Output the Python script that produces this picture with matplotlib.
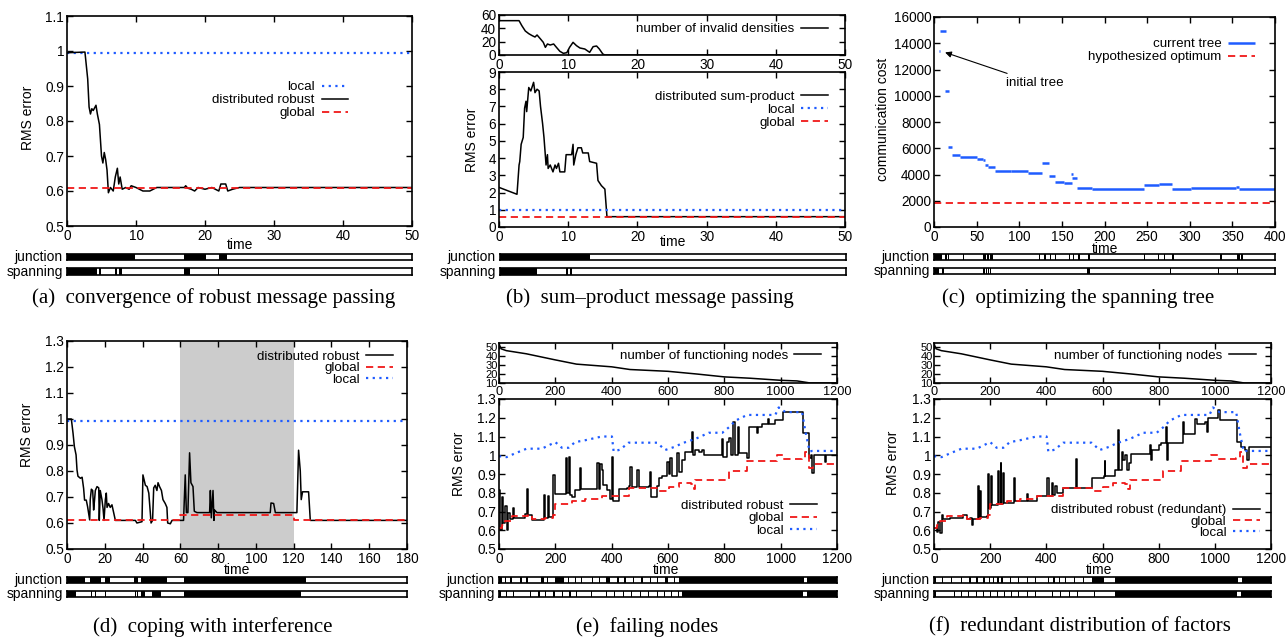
import matplotlib.pyplot as plt

plt.rcParams['font.family'] = ['Liberation Sans', 'DejaVu Sans']

W, H = 1287, 637
BLUE = '#1f5cff'
RED = '#f01818'

# ---------------- (a) convergence of robust message passing
a_time = [0, 2.6, 3.0, 3.2, 3.4, 3.6, 3.8, 4.2, 4.4, 4.7,
          5.0, 5.2, 5.4, 5.6, 5.8, 6.0, 6.3, 6.7, 7.0, 7.3,
          7.5, 7.7, 8.0, 8.5, 9.0, 9.3, 10, 11, 12, 13,
          17, 17.2, 17.5, 18, 18.5, 19, 20, 21, 22, 22.3,
          23, 23.3, 24, 25, 50]
a_robust = [0.995, 0.997, 0.92, 0.84, 0.82, 0.835, 0.83, 0.845, 0.82, 0.79,
            0.70, 0.68, 0.71, 0.69, 0.66, 0.595, 0.61, 0.60, 0.64, 0.665,
            0.62, 0.64, 0.605, 0.61, 0.605, 0.615, 0.61, 0.60, 0.60, 0.61,
            0.61, 0.615, 0.608, 0.605, 0.60, 0.61, 0.605, 0.61, 0.60, 0.62,
            0.62, 0.60, 0.605, 0.61, 0.61]
a_local = 0.993
a_global = 0.61
a_junction = [(0, 9.9), (17.0, 20.2), (22.0, 23.2)]
a_spanning = [(0, 4.3), (4.6, 4.9), (6.9, 7.2), (7.6, 7.9), (17.0, 17.8), (21.9, 22.05)]

# ---------------- (b) sum-product message passing
b_inv_time = [0, 2.9, 3.3, 3.8, 4.3, 4.8, 5.2, 5.5, 6.0, 6.4,
              6.7, 7.0, 7.4, 7.9, 8.3, 8.8, 9.3, 9.8, 10.2, 10.7,
              11.2, 11.7, 12.4, 13.1, 13.6, 14.1, 14.5, 15.0, 15.3, 50]
b_invalid = [51.5, 51.5, 44, 36, 32, 29, 27, 30, 24, 19,
             11.5, 16.5, 15, 16.5, 11.5, 5.5, 2.5, 3.5, 11.5, 19,
             14, 10.5, 9, 4, 12.5, 13.5, 9, 1.5, 0, 0]
b_time = [0, 2.6, 2.9, 3.0, 3.2, 3.5, 3.7, 3.9, 4.0, 4.3,
          4.6, 5.0, 5.2, 5.5, 5.8, 6.0, 6.3, 6.5, 6.8, 7.0,
          7.1, 7.4, 7.8, 8.1, 8.3, 8.6, 8.8, 9.5, 9.7, 10.5,
          10.7, 10.8, 11.1, 11.4, 11.9, 12.1, 12.9, 13.1, 14.1, 14.3,
          14.8, 15.3, 15.6, 50]
b_sumprod = [2.3, 1.9, 3.6, 3.8, 4.8, 5.2, 6.9, 7.3, 6.7, 8.1,
             7.9, 8.4, 7.8, 8.0, 7.9, 7.0, 6.0, 5.2, 3.6, 4.2,
             3.4, 3.6, 3.2, 3.6, 3.4, 3.7, 3.2, 3.2, 4.2, 4.2,
             4.8, 3.6, 4.2, 4.6, 4.6, 4.3, 4.3, 3.8, 3.7, 2.7,
             2.4, 2.2, 0.6, 0.6]
b_local = 1.0
b_global = 0.6
b_junction = [(0, 13.0)]
b_spanning = [(0, 5.4), (6.75, 6.85), (9.5, 9.8), (10.1, 10.4)]

# ---------------- (c) optimizing the spanning tree
c_start = [6, 6.5, 13, 17, 21, 30, 50, 58, 60, 63, 71, 90, 110, 127, 135, 142,
           152, 161, 162, 168, 185, 246, 264, 279, 302, 354, 358]
c_end = [7.5, 13.5, 18, 21, 30, 50, 58, 60, 63, 71, 90, 110, 127, 135, 142, 152,
         162, 163, 168, 185, 246, 264, 279, 302, 354, 358, 400]
c_cost = [13400, 14900, 10400, 6100, 5450, 5350, 5200, 5100, 4750, 4600, 4300, 4250,
          4150, 4870, 3850, 3450, 3330, 4050, 3720, 3000, 2900, 3200, 3280, 2900,
          3000, 3070, 2870]
c_optimum = 1850
c_junction = [(0, 9.6), (12.7, 15.4), (16.8, 17.6), (34.3, 35.0), (39.7, 40.4),
              (57.7, 61), (62.5, 64), (65.5, 69), (110, 110.8), (123, 123.8),
              (129, 131), (136, 136.8), (142, 142.8), (152, 152.8), (158, 160),
              (163, 163.8), (169, 171), (181, 183), (246, 248), (263, 264),
              (270, 271), (279, 281), (335, 338), (356, 359), (360.5, 363)]
c_spanning = [(0, 5.8), (9.6, 11.5), (57.7, 59.5), (61, 61.8), (63.5, 64.3),
              (66, 67), (179, 183), (277, 277.8), (333, 333.8), (356, 356.8)]

# ---------------- (d) coping with interference
d_time = [0, 2.3, 3.2, 3.9, 4.8, 5.3, 5.8, 7.1, 8.0, 8.8,
          9.3, 10.2, 10.9, 12.0, 12.3, 12.9, 13.6, 14.1, 14.6, 15.0,
          15.9, 16.8, 17.1, 17.6, 18.5, 19.1, 19.6, 20.3, 20.8, 21.2,
          22.0, 22.9, 23.8, 24.7, 25.6, 36.2, 37.0, 39.7, 40.2, 41.5,
          42.4, 43.3, 44.1, 44.5, 45.3, 45.9, 46.7, 47.6, 48.2, 49.0,
          50.0, 50.8, 52.0, 52.9, 53.3, 54.7, 55.6, 61.7, 62.6, 63.2,
          64.0, 64.9, 65.6, 66.7, 67.4, 68.8, 75.5, 75.9, 76.4, 77.3,
          77.8, 78.1, 79.4, 107.6, 108.0, 109.4, 110.3, 121.7, 122.6, 123.5,
          124.0, 124.7, 127.9, 128.8, 180]
d_robust = [1.0, 1.0, 0.945, 0.894, 0.862, 0.804, 0.78, 0.772, 0.776, 0.733,
            0.688, 0.688, 0.663, 0.612, 0.69, 0.73, 0.725, 0.65, 0.69, 0.725,
            0.74, 0.735, 0.61, 0.725, 0.69, 0.655, 0.61, 0.69, 0.715, 0.66,
            0.675, 0.66, 0.67, 0.64, 0.61, 0.61, 0.60, 0.605, 0.785, 0.745,
            0.74, 0.715, 0.64, 0.60, 0.61, 0.735, 0.745, 0.725, 0.755, 0.74,
            0.725, 0.69, 0.675, 0.66, 0.60, 0.597, 0.61, 0.61, 0.785, 0.64,
            0.64, 0.87, 0.755, 0.74, 0.645, 0.64, 0.64, 0.725, 0.62, 0.725,
            0.61, 0.65, 0.64, 0.64, 0.677, 0.675, 0.64, 0.64, 0.88, 0.80,
            0.69, 0.72, 0.72, 0.61, 0.61]
d_global_time = [0, 60, 120, 180]
d_global = [0.61, 0.632, 0.61, 0.61]
d_local = 0.993
d_shade = (60, 120)
d_junction = [(0, 9.7), (12.3, 18.2), (19.9, 22.9), (35.6, 37.4), (39.3, 52.9), (62.1, 126.5)]
d_spanning = [(0, 4.9), (12.9, 13.4), (14.6, 15.3), (20.0, 20.4), (36.2, 36.6),
              (37.2, 37.5), (39.2, 41.2), (45.0, 49.6), (62.1, 123.8)]

# ---------------- (e) failing nodes / (f) redundant distribution
ef_node_time = [0, 8, 26, 97, 200, 275, 400, 465, 600, 702, 800, 892, 1000, 1058, 1105, 1200]
ef_nodes = [53, 48, 46, 42.5, 35.7, 31, 28, 25, 23, 20, 16.8, 15.3, 13, 12.3, 10, 10]

ef_local_time = [0, 27, 57, 98, 152, 200, 223, 247, 270, 306,
                 365, 401, 407, 430, 460, 561, 590, 626, 650, 697,
                 745, 793, 817, 840, 881, 981, 993, 1017, 1076, 1088,
                 1103, 1112, 1200]
ef_local = [0.995, 0.99, 1.01, 1.035, 1.035, 1.07, 1.04, 1.04, 1.07, 1.08,
            1.10, 1.10, 1.02, 1.03, 1.067, 1.067, 1.028, 1.046, 1.064, 1.087,
            1.12, 1.12, 1.15, 1.185, 1.215, 1.215, 1.255, 1.23, 1.23, 1.125,
            1.02, 1.023, 1.023]
ef_global_time = [0, 10, 21, 45, 104, 116, 165, 193, 200, 259, 306, 365, 460, 561,
                  602, 638, 680, 692, 697, 817, 881, 987, 1010, 1076, 1088, 1100, 1116, 1200]
ef_global = [0.61, 0.63, 0.65, 0.675, 0.68, 0.66, 0.665, 0.68, 0.74, 0.755, 0.765, 0.785,
             0.825, 0.81, 0.832, 0.85, 0.845, 0.82, 0.87, 0.915, 0.97, 1.0, 0.98, 0.983,
             1.015, 0.93, 0.955, 0.955]

e_time = [0, 4, 9, 15, 21, 27, 33, 39, 51, 54,
          69, 92, 98, 102, 116, 158, 161, 165, 173, 178,
          190, 193, 200, 235, 238, 242, 247, 252, 259, 270,
          288, 292, 342, 348, 356, 359, 365, 371, 383, 395,
          401, 404, 422, 425, 454, 460, 466, 472, 490, 496,
          532, 535, 539, 561, 567, 579, 596, 602, 608, 614,
          632, 638, 650, 656, 662, 685, 689, 697, 709, 721,
          727, 784, 790, 796, 808, 817, 823, 832, 838, 847,
          851, 881, 887, 911, 915, 921, 935, 953, 956, 959,
          981, 987, 1010, 1076, 1079, 1094, 1100, 1106, 1112, 1118,
          1154, 1157, 1162, 1200]
e_robust = [0.815, 0.60, 0.78, 0.64, 0.73, 0.60, 0.69, 0.66, 0.72, 0.665,
            0.665, 0.685, 0.82, 0.68, 0.655, 0.655, 0.79, 0.665, 0.785, 0.67,
            0.685, 0.895, 0.795, 0.795, 0.985, 0.80, 0.99, 0.79, 0.78, 0.815,
            0.93, 0.82, 0.82, 0.96, 0.82, 0.955, 0.92, 0.84, 0.815, 0.765,
            0.99, 0.755, 0.755, 0.82, 0.825, 0.835, 0.94, 0.83, 0.92, 0.83,
            0.835, 0.91, 0.78, 0.835, 0.88, 0.89, 0.965, 0.90, 0.985, 0.89,
            1.01, 0.91, 0.975, 0.975, 1.02, 1.125, 1.0, 1.03, 1.02, 1.03,
            1.0, 1.0, 1.085, 0.99, 1.07, 1.09, 1.0, 1.18, 1.0, 1.15,
            1.01, 0.985, 1.15, 1.15, 1.12, 1.15, 1.165, 1.165, 1.195, 1.165,
            1.19, 1.19, 1.23, 1.23, 1.12, 1.12, 0.985, 1.0, 0.905, 1.0,
            1.0, 0.965, 1.0, 1.0]
e_junction = [(0, 12), (20, 24), (40, 46), (75, 80), (95, 103), (150, 160), (170, 175),
              (200, 230), (245, 250), (270, 275), (290, 295), (330, 335), (355, 360),
              (380, 395), (420, 425), (445, 450), (475, 480), (505, 510), (535, 540),
              (560, 565), (590, 600), (620, 625), (640, 1083), (1095, 1200)]
e_spanning = [(0, 8), (25, 28), (50, 53), (80, 83), (110, 113), (140, 146), (165, 168),
              (190, 200), (225, 228), (250, 255), (275, 278), (300, 303), (325, 330),
              (350, 353), (380, 384), (410, 413), (440, 445), (470, 473), (500, 503),
              (530, 533), (560, 563), (585, 590), (610, 613), (635, 640), (648, 1080),
              (1094, 1200)]

f_time = [0, 9, 15, 21, 27, 33, 57, 104, 116, 128,
          134, 140, 155, 159, 164, 167, 188, 193, 197, 202,
          206, 229, 232, 237, 240, 244, 249, 286, 290, 330,
          336, 365, 404, 408, 419, 422, 430, 437, 460, 506,
          509, 563, 605, 608, 610, 644, 656, 660, 668, 674,
          680, 688, 694, 703, 769, 774, 777, 801, 807, 825,
          830, 832, 836, 887, 891, 905, 929, 935, 965, 971,
          976, 981, 1010, 1017, 1079, 1094, 1106, 1114, 1121, 1200]
f_robust = [0.61, 0.59, 0.645, 0.585, 0.68, 0.66, 0.665, 0.68, 0.66, 0.665,
            0.63, 0.66, 0.835, 0.66, 0.81, 0.67, 0.675, 0.90, 0.72, 0.89,
            0.735, 0.915, 0.74, 0.96, 0.74, 0.905, 0.745, 0.88, 0.755, 0.795,
            0.755, 0.785, 0.88, 0.785, 0.85, 0.79, 0.835, 0.80, 0.825, 0.98,
            0.825, 0.88, 0.89, 0.97, 0.89, 0.92, 1.135, 0.92, 1.02, 0.975,
            1.0, 0.92, 0.96, 1.007, 1.055, 0.975, 1.03, 1.055, 1.065, 1.15,
            0.975, 1.065, 1.065, 1.18, 1.115, 1.115, 1.195, 1.165, 1.18, 1.125,
            1.2, 1.2, 1.24, 1.19, 1.07, 1.045, 1.03, 0.975, 1.045, 1.045]
f_junction = [(0, 6), (30, 33), (60, 63), (95, 98), (125, 130), (150, 155), (175, 180),
              (195, 200), (210, 214), (225, 230), (240, 245), (270, 273), (300, 303),
              (330, 333), (360, 363), (390, 393), (405, 410), (425, 430), (445, 450),
              (465, 470), (500, 503), (530, 533), (561, 607), (644, 1083), (1095, 1200)]
f_spanning = [(0, 6), (20, 23), (45, 48), (70, 73), (95, 98), (120, 123), (150, 153),
              (175, 178), (200, 203), (225, 228), (250, 253), (275, 278), (300, 303),
              (330, 333), (360, 363), (390, 393), (420, 423), (450, 453), (480, 483),
              (510, 513), (540, 543), (570, 573), (600, 603), (644, 1080), (1094, 1200)]

TICK = 9.8
LEG = 9.6
LAB = 10

fig = plt.figure(figsize=(W / 100, H / 100), dpi=100)


def add_box(x0, y0, x1, y1):
    return fig.add_axes([x0 / W, 1 - y1 / H, (x1 - x0) / W, (y1 - y0) / H])


def ptext(x, y, s, **kw):
    fig.text(x / W, 1 - y / H, s, ha='center', va='center', **kw)


def gp_style(ax, size=TICK):
    ax.tick_params(direction='in', length=4, width=1, top=True, right=True,
                   labelsize=size, pad=2)
    for s in ax.spines.values():
        s.set_linewidth(1.2)


def gp_legend(ax, anchor, spacing=0.05, size=LEG):
    ax.legend(loc='upper right', bbox_to_anchor=anchor, frameon=False, markerfirst=False,
              fontsize=size, handlelength=2.0, labelspacing=spacing, borderpad=0,
              handletextpad=0.5, borderaxespad=0)


def strip(x0, x1, y0, y1, xmax, on, name):
    ax = add_box(x0, y0, x1, y1)
    ax.broken_barh([(s, e - s) for s, e in on], (0, 1), facecolor='black', edgecolor='none')
    ax.set_xlim(0, xmax)
    ax.set_ylim(0, 1)
    ax.set_xticks([])
    ax.set_yticks([])
    for s in ax.spines.values():
        s.set_linewidth(1.2)
    ax.annotate(name, xy=(0, 0.5), xycoords='axes fraction', xytext=(-3, 0),
                textcoords='offset points', ha='right', va='center', fontsize=LAB)


def caption(xc, yc, txt):
    ptext(xc, yc, txt, fontsize=15, family=['Liberation Serif', 'DejaVu Serif'])


rms_ticks = [0.5, 0.6, 0.7, 0.8, 0.9, 1.0, 1.1, 1.2, 1.3]
rms_labels = ['0.5', '0.6', '0.7', '0.8', '0.9', '1', '1.1', '1.2', '1.3']

# ---- (a)
ax = add_box(67, 16, 412, 226)
ax.axhline(a_local, color=BLUE, ls=(0, (1, 2)), lw=1.6, label='local')
ax.plot(a_time, a_robust, color='black', lw=1.1, label='distributed robust')
ax.axhline(a_global, color=RED, ls=(0, (4, 2.5)), lw=1.3, label='global')
ax.set_xlim(0, 50)
ax.set_ylim(0.5, 1.1)
ax.set_yticks(rms_ticks[:7], rms_labels[:7])
gp_style(ax)
gp_legend(ax, (0.815, 0.69))
ptext(240, 245, 'time', fontsize=LAB)
ptext(28, 118, 'RMS error', fontsize=LAB, rotation=90)
strip(67, 412, 254, 260, 50, a_junction, 'junction')
strip(67, 412, 268, 275, 50, a_spanning, 'spanning')
caption(214, 298, '(a)  convergence of robust message passing')

# ---- (b)
ax = add_box(499, 15, 845, 55)
ax.plot(b_inv_time, b_invalid, color='black', lw=1.1, label='number of invalid densities')
ax.set_xlim(0, 50)
ax.set_ylim(0, 60)
ax.set_yticks([0, 20, 40, 60])
gp_style(ax)
gp_legend(ax, (0.951, 0.80))

ax = add_box(499, 72, 845, 227)
ax.plot(b_time, b_sumprod, color='black', lw=1.1, label='distributed sum-product')
ax.axhline(b_local, color=BLUE, ls=(0, (1, 2)), lw=1.6, label='local')
ax.axhline(b_global, color=RED, ls=(0, (4, 2.5)), lw=1.3, label='global')
ax.set_xlim(0, 50)
ax.set_ylim(0, 9)
ax.set_yticks(range(10))
gp_style(ax)
gp_legend(ax, (0.951, 0.88))
ptext(673, 242, 'time', fontsize=LAB)
ptext(472, 140, 'RMS error', fontsize=LAB, rotation=90)
strip(500, 846, 254, 260, 50, b_junction, 'junction')
strip(500, 846, 268, 275, 50, b_spanning, 'spanning')
caption(650, 298, '(b)  sum\u2013product message passing')

# ---- (c)
ax = add_box(934, 17, 1275, 227)
ax.hlines(c_cost, c_start, c_end, color=BLUE, lw=1.8, label='current tree')
ax.axhline(c_optimum, color=RED, ls=(0, (4, 2.5)), lw=1.3, label='hypothesized optimum')
ax.annotate('initial tree', xy=(13, 13300), xytext=(84, 11000), fontsize=LEG, va='center',
            arrowprops=dict(arrowstyle='-|>', color='black', lw=0.8, mutation_scale=9,
                            shrinkA=1, shrinkB=0))
ax.set_xlim(0, 400)
ax.set_ylim(0, 16000)
ax.set_xticks(range(0, 401, 50))
ax.set_yticks(range(0, 16001, 2000))
gp_style(ax)
gp_legend(ax, (0.941, 0.90))
ptext(1105, 249, 'time', fontsize=LAB)
ptext(883, 119, 'communication cost', fontsize=LAB, rotation=90)
strip(934, 1275, 254, 260, 400, c_junction, 'junction')
strip(934, 1275, 268, 274, 400, c_spanning, 'spanning')
caption(1078, 298, '(c)  optimizing the spanning tree')

# ---- (d)
ax = add_box(67, 341, 407, 549)
ax.axvspan(*d_shade, color='#cccccc', lw=0)
ax.plot(d_time, d_robust, color='black', lw=1.1, label='distributed robust')
ax.plot(d_global_time, d_global, color=RED, ls=(0, (4, 2.5)), lw=1.3,
        drawstyle='steps-post', label='global')
ax.axhline(d_local, color=BLUE, ls=(0, (1, 2)), lw=1.6, label='local')
ax.set_xlim(0, 180)
ax.set_ylim(0.5, 1.3)
ax.set_xticks(range(0, 181, 20))
ax.set_yticks(rms_ticks, rms_labels)
gp_style(ax)
gp_legend(ax, (0.959, 0.955), spacing=-0.06)
ptext(237, 570, 'time', fontsize=LAB)
ptext(27, 435, 'RMS error', fontsize=LAB, rotation=90)
strip(67, 407, 577, 583, 180, d_junction, 'junction')
strip(67, 407, 591, 597, 180, d_spanning, 'spanning')
caption(213, 627, '(d)  coping with interference')


# ---- (e) and (f)
def nodes_axes(x0, x1, anchor):
    ax = add_box(x0, 343, x1, 383)
    ax.plot(ef_node_time, ef_nodes, color='black', lw=1.1, label='number of functioning nodes')
    ax.set_xlim(0, 1200)
    ax.set_ylim(10, 54.5)
    ax.set_yticks([10, 20, 30, 40, 50])
    gp_style(ax, 9.2)
    ax.tick_params(axis='y', labelsize=8, pad=1)
    gp_legend(ax, anchor)


def error_axes(x0, x1, t, v, name, anchor, spacing):
    ax = add_box(x0, 399, x1, 549)
    ax.plot(t, v, color='black', lw=1.1, drawstyle='steps-post', label=name)
    ax.plot(ef_global_time, ef_global, color=RED, ls=(0, (4, 2.5)), lw=1.3,
            drawstyle='steps-post', label='global')
    ax.plot(ef_local_time, ef_local, color=BLUE, ls=(0, (1, 2)), lw=1.6, label='local')
    ax.set_xlim(0, 1200)
    ax.set_ylim(0.5, 1.3)
    ax.set_yticks(rms_ticks, rms_labels)
    gp_style(ax)
    gp_legend(ax, anchor, spacing=spacing)


nodes_axes(499, 837, (0.953, 0.84))
error_axes(499, 837, e_time, e_robust, 'distributed robust', (0.941, 0.33), 0.0)
ptext(666, 570, 'time', fontsize=LAB)
ptext(459, 464, 'RMS error', fontsize=LAB, rotation=90)
strip(499, 837, 577, 583, 1200, e_junction, 'junction')
strip(499, 837, 591, 597, 1200, e_spanning, 'spanning')
caption(647, 627, '(e)  failing nodes')

nodes_axes(934, 1271, (0.955, 0.84))
error_axes(934, 1271, f_time, f_robust, 'distributed robust (redundant)', (0.967, 0.30), -0.08)
ptext(1099, 570, 'time', fontsize=LAB)
ptext(893, 463, 'RMS error', fontsize=LAB, rotation=90)
strip(934, 1271, 577, 583, 1200, f_junction, 'junction')
strip(934, 1271, 591, 597, 1200, f_spanning, 'spanning')
caption(1080, 627, '(f)  redundant distribution of factors')

fig.savefig('out.png', dpi=100)
